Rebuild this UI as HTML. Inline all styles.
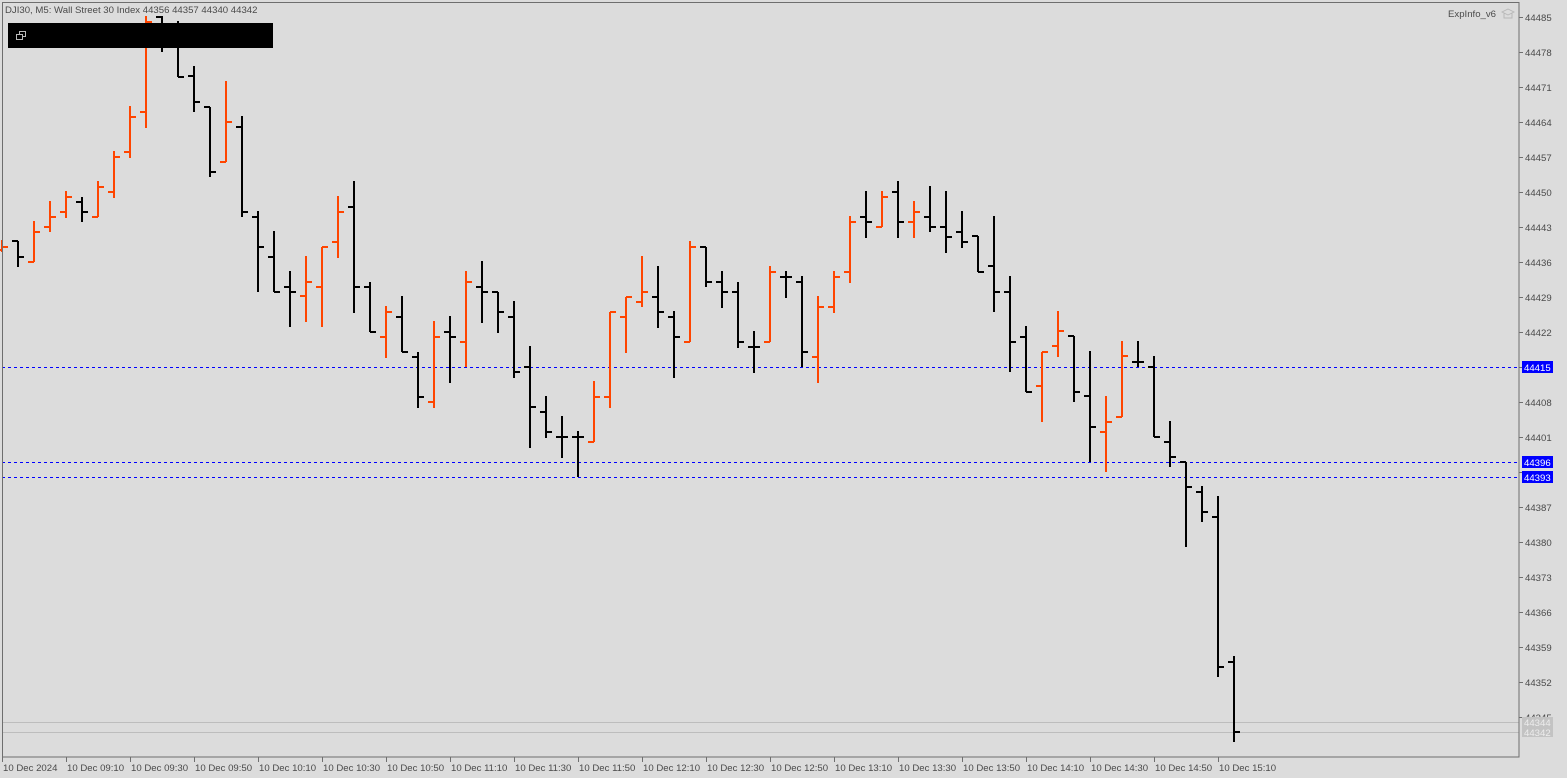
<!DOCTYPE html>
<html><head><meta charset="utf-8"><style>
html,body{margin:0;padding:0;background:#dcdcdc;}
svg{display:block;font-family:"Liberation Sans","DejaVu Sans",sans-serif;}
.o{stroke:#ff4500;stroke-width:2;fill:none}
.b{stroke:#000;stroke-width:2;fill:none}
.ax{fill:#4a4a4a;font-size:9.6px}
</style></head><body>
<svg width="1567" height="778" viewBox="0 0 1567 778" shape-rendering="crispEdges">
<rect x="0" y="0" width="1567" height="778" fill="#dcdcdc"/>
<line x1="2" y1="722.5" x2="1519" y2="722.5" stroke="#bdbdbd"/>
<line x1="2" y1="732.5" x2="1519" y2="732.5" stroke="#bdbdbd"/>
<g stroke="#0000ff" stroke-dasharray="3,3" stroke-width="1">
<line x1="2" y1="367.5" x2="1519" y2="367.5"/>
<line x1="2" y1="462.5" x2="1519" y2="462.5"/>
<line x1="2" y1="477.5" x2="1519" y2="477.5"/>
</g>
<g id="bars">
<path class="o" d="M2,240V252M-4,250H2M2,247H8"/>
<path class="b" d="M18,241V267M12,241H18M18,257H24"/>
<path class="o" d="M34,221V262M28,262H34M34,232H40"/>
<path class="o" d="M50,201V232M44,227H50M50,217H56"/>
<path class="o" d="M66,191V218M60,212H66M66,197H72"/>
<path class="b" d="M82,197V222M76,202H82M82,212H88"/>
<path class="o" d="M98,181V217M92,217H98M98,187H104"/>
<path class="o" d="M114,151V198M108,192H114M114,157H120"/>
<path class="o" d="M130,106V158M124,152H130M130,117H136"/>
<path class="o" d="M146,16V128M140,112H146M146,22H152"/>
<path class="b" d="M162,16V52M156,17H162M162,25H168"/>
<path class="b" d="M178,21V77M172,30H178M178,77H184"/>
<path class="b" d="M194,66V112M188,76H194M194,102H200"/>
<path class="b" d="M210,107V177M204,107H210M210,172H216"/>
<path class="o" d="M226,81V162M220,162H226M226,122H232"/>
<path class="b" d="M242,116V217M236,127H242M242,212H248"/>
<path class="b" d="M258,211V292M252,217H258M258,247H264"/>
<path class="b" d="M274,231V292M268,257H274M274,292H280"/>
<path class="b" d="M290,271V327M284,287H290M290,292H296"/>
<path class="o" d="M306,256V322M300,296H306M306,282H312"/>
<path class="o" d="M322,247V327M316,287H322M322,247H328"/>
<path class="o" d="M338,196V258M332,242H338M338,212H344"/>
<path class="b" d="M354,181V313M348,207H354M354,287H360"/>
<path class="b" d="M370,282V332M364,287H370M370,332H376"/>
<path class="o" d="M386,306V358M380,337H386M386,312H392"/>
<path class="b" d="M402,296V352M396,317H402M402,352H408"/>
<path class="b" d="M418,352V408M412,357H418M418,397H424"/>
<path class="o" d="M434,321V408M428,402H434M434,337H440"/>
<path class="b" d="M450,316V383M444,332H450M450,337H456"/>
<path class="o" d="M466,271V367M460,342H466M466,282H472"/>
<path class="b" d="M482,261V323M476,287H482M482,292H488"/>
<path class="b" d="M498,292V333M492,292H498M498,312H504"/>
<path class="b" d="M514,301V378M508,317H514M514,372H520"/>
<path class="b" d="M530,346V448M524,367H530M530,407H536"/>
<path class="b" d="M546,396V438M540,412H546M546,432H552"/>
<path class="b" d="M562,416V458M556,437H562M562,437H568"/>
<path class="b" d="M578,431V477M572,437H578M578,437H584"/>
<path class="o" d="M594,381V442M588,442H594M594,397H600"/>
<path class="o" d="M610,312V408M604,397H610M610,312H616"/>
<path class="o" d="M626,297V353M620,317H626M626,297H632"/>
<path class="o" d="M642,256V307M636,302H642M642,292H648"/>
<path class="b" d="M658,266V328M652,297H658M658,312H664"/>
<path class="b" d="M674,311V378M668,317H674M674,337H680"/>
<path class="o" d="M690,241V342M684,342H690M690,247H696"/>
<path class="b" d="M706,247V287M700,247H706M706,282H712"/>
<path class="b" d="M722,271V308M716,282H722M722,292H728"/>
<path class="b" d="M738,282V348M732,292H738M738,342H744"/>
<path class="b" d="M754,331V373M748,347H754M754,347H760"/>
<path class="o" d="M770,266V342M764,342H770M770,272H776"/>
<path class="b" d="M786,271V298M780,277H786M786,277H792"/>
<path class="b" d="M802,276V367M796,282H802M802,352H808"/>
<path class="o" d="M818,296V383M812,357H818M818,307H824"/>
<path class="o" d="M834,271V313M828,307H834M834,277H840"/>
<path class="o" d="M850,216V283M844,272H850M850,222H856"/>
<path class="b" d="M866,191V238M860,217H866M866,222H872"/>
<path class="o" d="M882,191V227M876,227H882M882,197H888"/>
<path class="b" d="M898,181V238M892,192H898M898,222H904"/>
<path class="o" d="M914,201V238M908,222H914M914,212H920"/>
<path class="b" d="M930,186V232M924,217H930M930,227H936"/>
<path class="b" d="M946,191V253M940,227H946M946,237H952"/>
<path class="b" d="M962,211V248M956,232H962M962,242H968"/>
<path class="b" d="M978,236V272M972,236H978M978,272H984"/>
<path class="b" d="M994,216V312M988,266H994M994,292H1000"/>
<path class="b" d="M1010,276V372M1004,292H1010M1010,342H1016"/>
<path class="b" d="M1026,326V392M1020,337H1026M1026,392H1032"/>
<path class="o" d="M1042,352V422M1036,386H1042M1042,352H1048"/>
<path class="o" d="M1058,311V357M1052,346H1058M1058,331H1064"/>
<path class="b" d="M1074,336V402M1068,336H1074M1074,392H1080"/>
<path class="b" d="M1090,351V462M1084,396H1090M1090,427H1096"/>
<path class="o" d="M1106,396V472M1100,432H1106M1106,422H1112"/>
<path class="o" d="M1122,341V417M1116,417H1122M1122,356H1128"/>
<path class="b" d="M1138,341V367M1132,362H1138M1138,362H1144"/>
<path class="b" d="M1154,356V437M1148,367H1154M1154,437H1160"/>
<path class="b" d="M1170,421V467M1164,442H1170M1170,457H1176"/>
<path class="b" d="M1186,462V547M1180,462H1186M1186,487H1192"/>
<path class="b" d="M1202,486V522M1196,492H1202M1202,512H1208"/>
<path class="b" d="M1218,496V677M1212,517H1218M1218,667H1224"/>
<path class="b" d="M1234,656V742M1228,662H1234M1234,732H1240"/>
</g>
<rect x="8" y="23" width="265" height="25" fill="#000"/>
<g stroke="#bbb" fill="none" stroke-width="1">
<rect x="16.5" y="34.5" width="6" height="5"/>
<path d="M19.5,34.5V31.5H25.5V36.5H22.5"/>
</g>
<text x="5" y="13" fill="#4a4a4a" font-size="9.6">DJI30, M5:  Wall Street 30 Index  44356 44357 44340 44342</text>
<text x="1448" y="17" fill="#4a4a4a" font-size="9.6">ExpInfo_v6</text>
<g stroke="#b8b8b8" fill="none"><path d="M1502,12L1508,9L1514,12L1508,15Z M1504,13V18H1512V13"/></g>
<rect x="2.5" y="2.5" width="1516.5" height="754.5" fill="none" stroke="#6e6e6e" stroke-width="1"/>
<g stroke="#6e6e6e">
<path d="M1519,17.5h4M1519,52.5h4M1519,87.5h4M1519,122.5h4M1519,157.5h4M1519,192.5h4M1519,227.5h4M1519,262.5h4M1519,297.5h4M1519,332.5h4M1519,367.5h4M1519,402.5h4M1519,437.5h4M1519,472.5h4M1519,507.5h4M1519,542.5h4M1519,577.5h4M1519,612.5h4M1519,647.5h4M1519,682.5h4M1519,717.5h4"/>
</g>
<g class="ax">
<text x="1525" y="21">44485</text><text x="1525" y="56">44478</text><text x="1525" y="91">44471</text>
<text x="1525" y="126">44464</text><text x="1525" y="161">44457</text><text x="1525" y="196">44450</text>
<text x="1525" y="231">44443</text><text x="1525" y="266">44436</text><text x="1525" y="301">44429</text>
<text x="1525" y="336">44422</text><text x="1525" y="406">44408</text>
<text x="1525" y="441">44401</text><text x="1525" y="511">44387</text>
<text x="1525" y="546">44380</text><text x="1525" y="581">44373</text><text x="1525" y="616">44366</text>
<text x="1525" y="651">44359</text><text x="1525" y="686">44352</text><text x="1525" y="721">44345</text>
</g>
<rect x="1522" y="717" width="31" height="20" fill="#c3c3c3"/>
<text x="1524" y="726" fill="#ececec" font-size="9.6">44344</text>
<text x="1524" y="736" fill="#ececec" font-size="9.6">44342</text>
<rect x="1522" y="361" width="31" height="12" fill="#0000ff"/>
<text x="1524" y="371" fill="#fff" font-size="9.6">44415</text>
<rect x="1522" y="456" width="31" height="12" fill="#0000ff"/>
<text x="1524" y="466" fill="#fff" font-size="9.6">44396</text>
<rect x="1522" y="471" width="31" height="12" fill="#0000ff"/>
<text x="1524" y="481" fill="#fff" font-size="9.6">44393</text>
<g stroke="#6e6e6e">
<path d="M2.5,757v5M66.5,757v5M130.5,757v5M194.5,757v5M258.5,757v5M322.5,757v5M386.5,757v5M450.5,757v5M514.5,757v5M578.5,757v5M642.5,757v5M706.5,757v5M770.5,757v5M834.5,757v5M898.5,757v5M962.5,757v5M1026.5,757v5M1090.5,757v5M1154.5,757v5M1218.5,757v5"/>
</g>
<g class="ax">
<text x="3" y="771">10 Dec 2024</text><text x="67" y="771">10 Dec 09:10</text><text x="131" y="771">10 Dec 09:30</text>
<text x="195" y="771">10 Dec 09:50</text><text x="259" y="771">10 Dec 10:10</text><text x="323" y="771">10 Dec 10:30</text>
<text x="387" y="771">10 Dec 10:50</text><text x="451" y="771">10 Dec 11:10</text><text x="515" y="771">10 Dec 11:30</text>
<text x="579" y="771">10 Dec 11:50</text><text x="643" y="771">10 Dec 12:10</text><text x="707" y="771">10 Dec 12:30</text>
<text x="771" y="771">10 Dec 12:50</text><text x="835" y="771">10 Dec 13:10</text><text x="899" y="771">10 Dec 13:30</text>
<text x="963" y="771">10 Dec 13:50</text><text x="1027" y="771">10 Dec 14:10</text><text x="1091" y="771">10 Dec 14:30</text>
<text x="1155" y="771">10 Dec 14:50</text><text x="1219" y="771">10 Dec 15:10</text>
</g>
</svg>
</body></html>
